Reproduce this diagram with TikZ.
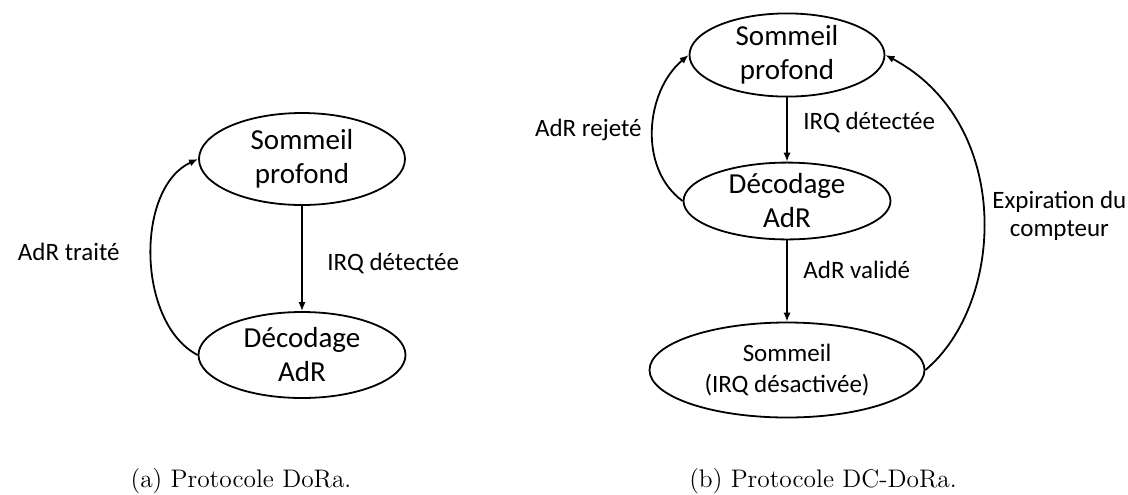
\documentclass[tikz,border=0pt]{standalone}
\usepackage{fontspec}
\newfontfamily\carl{Carlito}
\usetikzlibrary{shapes.geometric,arrows.meta}
\begin{document}
\begin{tikzpicture}[x=0.5pt,y=-0.5pt,
  state/.style={draw,ellipse,line width=0.9pt,inner sep=0pt,align=center,
    font=\carl\fontsize{14.5}{17}\selectfont},
  lbl/.style={inner sep=0pt,align=center,font=\carl\fontsize{12.5}{14}\selectfont},
  captext/.style={inner sep=0pt,font=\fontsize{12.7}{15}\selectfont},
  arr/.style={line width=0.9pt,-{Latex[length=4.5pt,width=3.6pt]}}]
\useasboundingbox (0,0) rectangle (1128,494);
% (a)
\node[state,minimum width=103pt,minimum height=46pt] (a1) at (302,159) {Sommeil\\profond};
\node[state,minimum width=103.5pt,minimum height=43pt] (a2) at (302,355) {Décodage\\AdR};
\draw[arr] (a1.south) -- (a2.north);
\draw[arr] (a2.west) .. controls +(-61,-32) and +(-63,29) .. (a1.west);
\node[lbl,anchor=west] (la1) at (327,263) {IRQ détectée};
\node[lbl,anchor=east] (la2) at (120,252) {AdR traité};
% (b)
\node[state,minimum width=97.5pt,minimum height=40pt] (b1) at (787,55) {Sommeil\\profond};
\node[state,minimum width=103.5pt,minimum height=37pt] (b2) at (787,201) {Décodage\\AdR};
\node[state,minimum width=137.5pt,minimum height=47.5pt,font=\carl\fontsize{12.5}{15.5}\selectfont] (b3) at (787,370) {Sommeil\\(IRQ désactivée)};
\draw[arr] (b1.south) -- (b2.north);
\draw[arr] (b2.south) -- (b3.north);
\draw[arr] (b2.west) .. controls +(-45,-33) and +(-43,36) .. (b1.west);
\draw[arr] (b3.east) .. controls +(80,-67) and +(128,68) .. (b1.east);
\node[lbl,anchor=west] (lb1) at (803,122) {IRQ détectée};
\node[lbl,anchor=east] (lb2) at (642,130) {AdR rejeté};
\node[lbl,anchor=west] (lb3) at (803,270) {AdR validé};
\node[lbl,anchor=west] (lb4) at (992,216) {Expiration du\\compteur};
% captions
\node[captext] (ca) at (241,481) {(a) Protocole DoRa.};
\node[captext] (cb) at (823,481) {(b) Protocole DC-DoRa.};
\end{tikzpicture}
\end{document}
